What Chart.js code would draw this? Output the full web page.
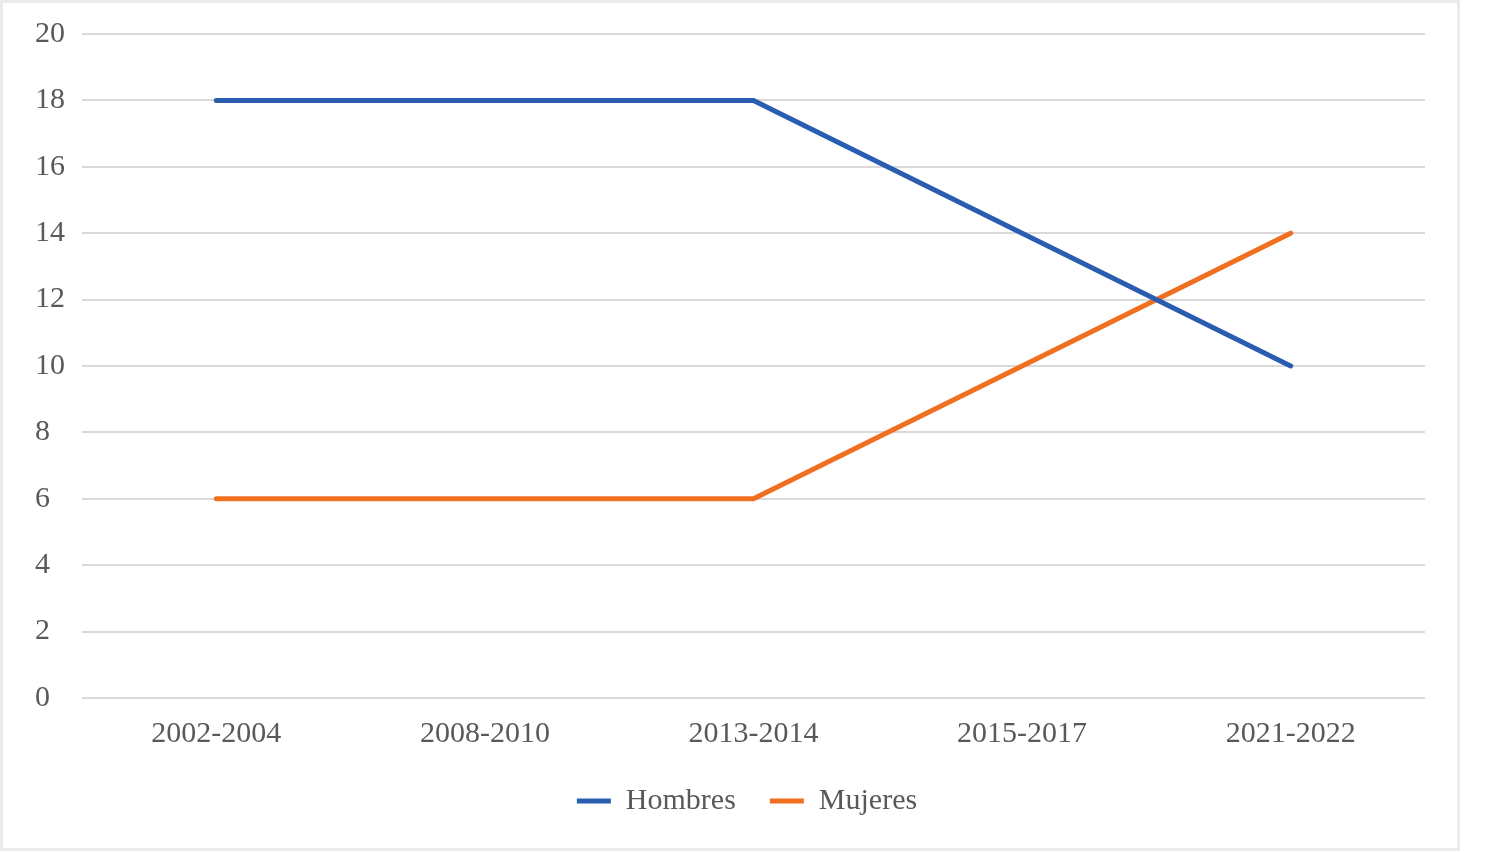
<!DOCTYPE html>
<html>
<head>
<meta charset="utf-8">
<script src="https://cdn.jsdelivr.net/npm/chart.js@4/dist/chart.umd.min.js"></script>
<style>
    html, body { margin: 0; padding: 0; background: #ffffff; }
    #wrap {
        position: absolute; left: 0; top: 0;
        width: 1460px; height: 851px;
        border: 3px solid #ebebeb; box-sizing: border-box;
    }
    #chartBox { position: absolute; left: 0; top: 0; width: 1454px; height: 845px; }
</style>
</head>
<body>
<div id="wrap"><div id="chartBox"><canvas id="lineChart"></canvas></div></div>
<script>
    // periodos del eje X
    var periodos = ['2002-2004', '2008-2010', '2013-2014', '2015-2017', '2021-2022'];
    // valores por serie
    var hombres = [18, 18, 18, 14, 10];
    var mujeres = [6, 6, 6, 10, 14];
    // eje Y
    var yMin = 0, yMax = 20, yStep = 2;

    var fuente = "'Liberation Serif', 'Times New Roman', serif";
    var grisTexto = '#595959';

    // desplaza la leyenda para centrarla bajo el área del gráfico
    var moverLeyenda = {
        id: 'moverLeyenda',
        afterLayout: function (chart) {
            chart.legend.left += 17;
            chart.legend.right += 17;
        }
    };

    var ctx = document.getElementById('lineChart').getContext('2d');

    new Chart(ctx, {
        type: 'line',
        data: {
            labels: periodos,
            datasets: [{
                label: 'Hombres',
                data: hombres,
                borderColor: '#2a5db0',
                backgroundColor: '#2a5db0',
                borderWidth: 5,
                pointRadius: 0,
                tension: 0,
                borderCapStyle: 'round'
            }, {
                label: 'Mujeres',
                data: mujeres,
                borderColor: '#f0701f',
                backgroundColor: '#f0701f',
                borderWidth: 5,
                pointRadius: 0,
                tension: 0,
                borderCapStyle: 'round'
            }]
        },
        plugins: [moverLeyenda],
        options: {
            responsive: true,
            maintainAspectRatio: false,
            animation: false,
            layout: { padding: { top: 31, right: 32, left: 32, bottom: 22 } },
            plugins: {
                tooltip: { enabled: false },
                legend: {
                    position: 'bottom',
                    labels: {
                        boxWidth: 34,
                        boxHeight: 5,
                        padding: 34,
                        color: grisTexto,
                        font: { family: fuente, size: 30 },
                        generateLabels: function (chart) {
                            var items = Chart.defaults.plugins.legend.labels.generateLabels(chart);
                            items.forEach(function (it) { it.lineWidth = 0; });
                            return items;
                        }
                    }
                }
            },
            scales: {
                x: {
                    offset: true,
                    grid: { display: false, drawTicks: false },
                    border: { display: false },
                    ticks: {
                        color: grisTexto,
                        padding: 18,
                        maxRotation: 0,
                        font: { family: fuente, size: 30 }
                    },
                    afterFit: function (scale) {
                        scale.height = scale.height - 18;
                    }
                },
                y: {
                    min: yMin,
                    max: yMax,
                    grid: { color: '#d9d9d9', lineWidth: 2, drawTicks: false },
                    border: { display: false },
                    ticks: {
                        stepSize: yStep,
                        color: grisTexto,
                        padding: 8.5,
                        crossAlign: 'far',
                        font: { family: fuente, size: 30 }
                    }
                }
            }
        }
    });
</script>
</body>
</html>
